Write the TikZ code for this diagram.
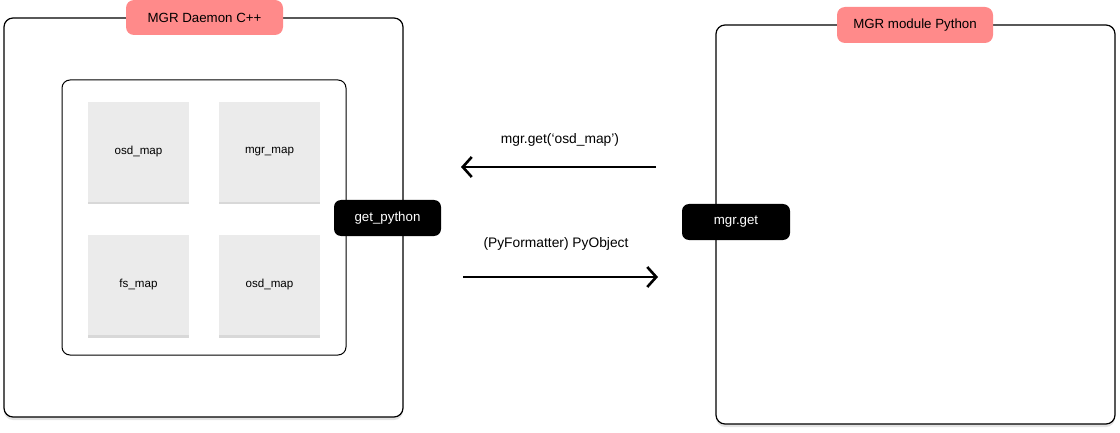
\documentclass[tikz,border=0pt]{standalone}
\usepackage{fontspec}
\setmainfont{Liberation Sans}
\usetikzlibrary{arrows.meta,shadows}
\definecolor{pinklbl}{HTML}{FF8A8A}
\definecolor{mapgrey}{HTML}{EBEBEB}
\tikzset{
  bigbox/.style={draw=black, line width=1.2pt, rounded corners=9pt, fill=white,
    drop shadow={shadow xshift=0pt, shadow yshift=-3pt, opacity=0.22}},
  innerbox/.style={draw=black, line width=1pt, rounded corners=8pt, fill=white},
  mapbox/.style={fill=mapgrey, minimum width=101pt, minimum height=100pt, inner sep=0pt,
    font=\fontsize{11.6}{13}\selectfont,
    drop shadow={shadow xshift=0pt, shadow yshift=-2.5pt, opacity=0.25, fill=black!60}},
  title/.style={fill=pinklbl, rounded corners=8pt, inner sep=0pt, font=\fontsize{13.3}{15}\selectfont},
  blackbox/.style={fill=black, text=white, rounded corners=7pt, inner sep=0pt,
    minimum width=107pt, minimum height=36pt, font=\fontsize{13.3}{15}\selectfont},
  flow/.style={line width=2.8pt, -{Straight Barb[length=9pt,width=20pt,line width=2.6pt]}},
  lbl/.style={font=\fontsize{13.8}{16}\selectfont}
}
\begin{document}
\begin{tikzpicture}[x=1pt,y=-1pt]
\useasboundingbox (0,0) rectangle (1120,433);
% left system
\node[bigbox, minimum width=399pt, minimum height=399pt, inner sep=0pt] (daemon) at (203.5,217.5) {};
\node[title, minimum width=157pt, minimum height=35pt] (daemontitle) at (204.5,17.5) {MGR Daemon C++};
\node[innerbox, minimum width=284pt, minimum height=275pt, inner sep=0pt] (maps) at (204,217.5) {};
\node[mapbox] (osdA) at (138.5,152) {osd\_map};
\node[mapbox] (mgrmap) at (269.5,152) {mgr\_map};
\node[mapbox] (fsmap) at (138.5,285) {fs\_map};
\node[mapbox] (osdB) at (269.5,285) {osd\_map};
\node[blackbox] (getpy) at (387.5,218) {get\_python};
% right system
\node[bigbox, minimum width=399pt, minimum height=399pt, inner sep=0pt] (module) at (915.5,224.5) {};
\node[title, minimum width=156pt, minimum height=36pt] (moduletitle) at (915,25) {MGR module Python};
\node[blackbox, minimum width=108pt] (mgrget) at (736,222) {mgr.get};
% connectors
\coordinate (reqstart) at (656,167);
\coordinate (reqend) at (461,167);
\coordinate (respstart) at (463,277);
\coordinate (respend) at (658,277);
\draw[flow] (reqstart) -- (reqend);
\draw[flow] (respstart) -- (respend);
\node[lbl] (reqlbl) at (560,140) {mgr.get(‘osd\_map’)};
\node[lbl] (resplbl) at (556,244) {(PyFormatter) PyObject};
\end{tikzpicture}
\end{document}
